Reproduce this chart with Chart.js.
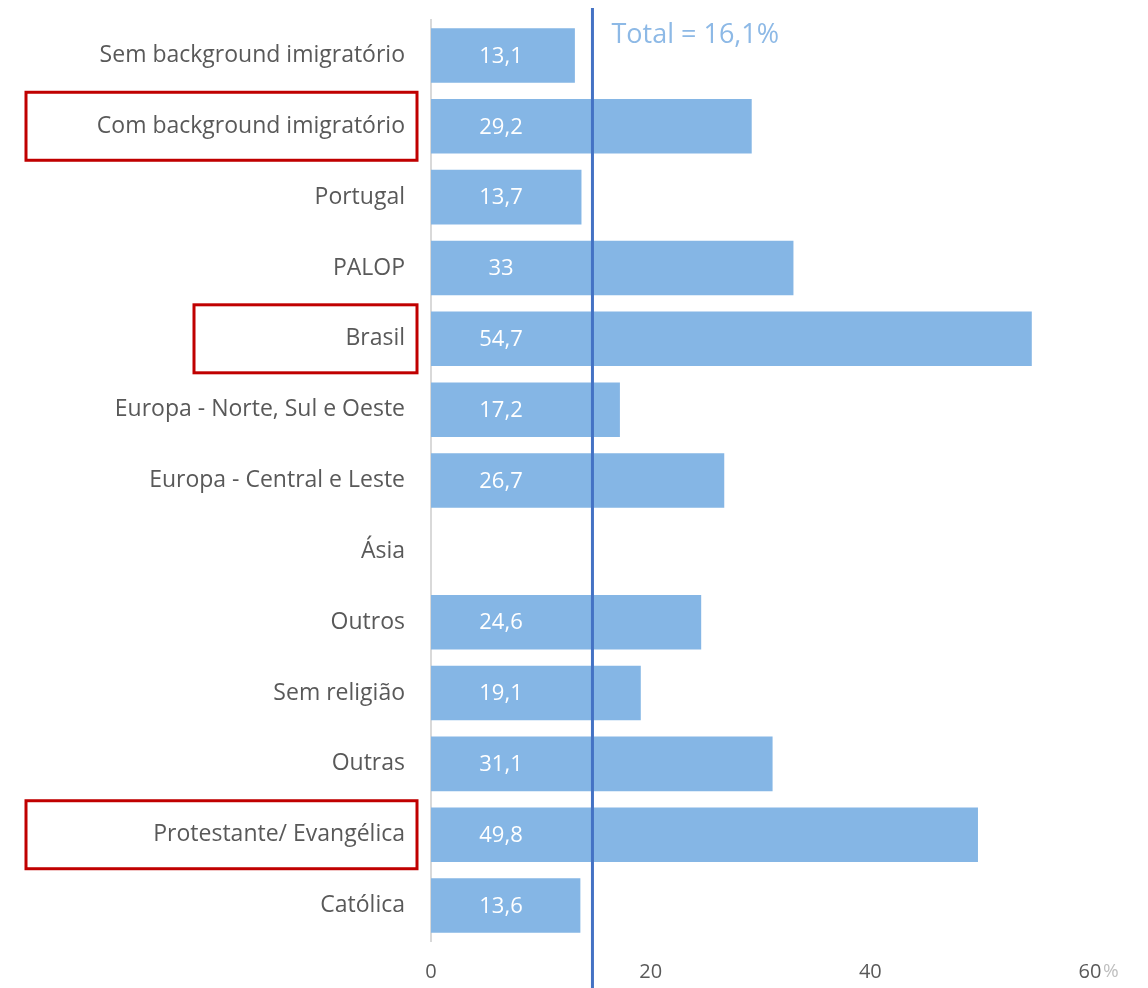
<!DOCTYPE html>
<html>
<head>
<meta charset="utf-8">
<script src="https://cdn.jsdelivr.net/npm/chart.js@4/dist/chart.umd.min.js"></script>
<style>
  html, body { margin: 0; padding: 0; background: #fff; }
  #wrap { width: 1148px; height: 988px; position: relative; }
</style>
</head>
<body>
<div id="wrap"><canvas id="chart"></canvas></div>
<script>
// --- Datos ---
const categorias = [
    'Sem background imigratório',
    'Com background imigratório',
    'Portugal',
    'PALOP',
    'Brasil',
    'Europa - Norte, Sul e Oeste',
    'Europa - Central e Leste',
    'Ásia',
    'Outros',
    'Sem religião',
    'Outras',
    'Protestante/ Evangélica',
    'Católica'
];
const valores = [13.1, 29.2, 13.7, 33, 54.7, 17.2, 26.7, null, 24.6, 19.1, 31.1, 49.8, 13.6];
const etiquetas = ['13,1', '29,2', '13,7', '33', '54,7', '17,2', '26,7', '', '24,6', '19,1', '31,1', '49,8', '13,6'];
const xTicks = [0, 20, 40, 60];
// posición de la línea tal como se ve en la imagen, y su texto
const lineaTotal = 14.7;
const textoTotal = 'Total = 16,1%';
// categorías marcadas con recuadro rojo
const destacadas = ['Com background imigratório', 'Brasil', 'Protestante/ Evangélica'];

const FONT = 'Open Sans';

// Plugin: etiquetas, línea del total, recuadros rojos y el "%"
const extras = {
    id: 'extras',
    afterDatasetsDraw(chart) {
        const { ctx, scales: { x, y } } = chart;
        ctx.save();

        // etiquetas blancas dentro de las barras
        ctx.fillStyle = '#ffffff';
        ctx.font = `22px "${FONT}"`;
        ctx.textAlign = 'center';
        ctx.textBaseline = 'middle';
        etiquetas.forEach((t, i) => {
            if (!t) return;
            ctx.fillText(t, x.getPixelForValue(0) + 70, y.getPixelForValue(i) + 1);
        });

        // línea del total
        const lx = x.getPixelForValue(lineaTotal);
        ctx.strokeStyle = '#4472c4';
        ctx.lineWidth = 3;
        ctx.beginPath();
        ctx.moveTo(lx, 8);
        ctx.lineTo(lx, 988);
        ctx.stroke();

        ctx.fillStyle = '#8db9e6';
        ctx.font = `27px "${FONT}"`;
        ctx.textAlign = 'left';
        ctx.fillText(textoTotal, lx + 19, 35);

        // recuadros rojos alrededor de las etiquetas destacadas
        ctx.strokeStyle = '#c00000';
        ctx.lineWidth = 3;
        destacadas.forEach(nombre => {
            const i = categorias.indexOf(nombre);
            const cy = y.getPixelForValue(i);
            const izq = nombre === 'Brasil' ? 194 : 26;
            ctx.strokeRect(izq, cy - 34, 417 - izq, 68);
        });

        // símbolo de porcentaje junto al último tick
        ctx.fillStyle = '#bfbfbf';
        ctx.font = `19px "${FONT}"`;
        ctx.textAlign = 'left';
        ctx.fillText('%', x.getPixelForValue(60) + 13, 972);

        ctx.restore();
    }
};

new Chart(document.getElementById('chart'), {
    type: 'bar',
    data: {
        labels: categorias,
        datasets: [{
            data: valores,
            backgroundColor: '#85b6e5',
            barPercentage: 0.77,
            categoryPercentage: 1.0
        }]
    },
    options: {
        indexAxis: 'y',
        responsive: true,
        maintainAspectRatio: false,
        animation: false,
        layout: { padding: { top: 20, right: 58, left: 0, bottom: 0 } },
        plugins: {
            legend: { display: false },
            tooltip: { enabled: false }
        },
        scales: {
            x: {
                min: 0,
                max: 60,
                afterBuildTicks: (s) => { s.ticks = xTicks.map(v => ({ value: v })); },
                afterFit: (s) => { s.height = 47; },
                grid: { display: false, drawTicks: false },
                border: { display: false },
                ticks: {
                    color: '#595959',
                    font: { family: FONT, size: 20 },
                    padding: 19
                }
            },
            y: {
                afterFit: (s) => {
                    s.width = 431;
                    // sin relleno extra arriba y abajo
                    s.paddingTop = 0;
                    s.paddingBottom = 0;
                },
                grid: { display: false, drawTicks: false },
                border: { display: true, color: '#d9d9d9', width: 2 },
                ticks: {
                    color: '#595959',
                    font: { family: FONT, size: 23 },
                    padding: 26
                }
            }
        }
    },
    plugins: [extras]
});
</script>
</body>
</html>
